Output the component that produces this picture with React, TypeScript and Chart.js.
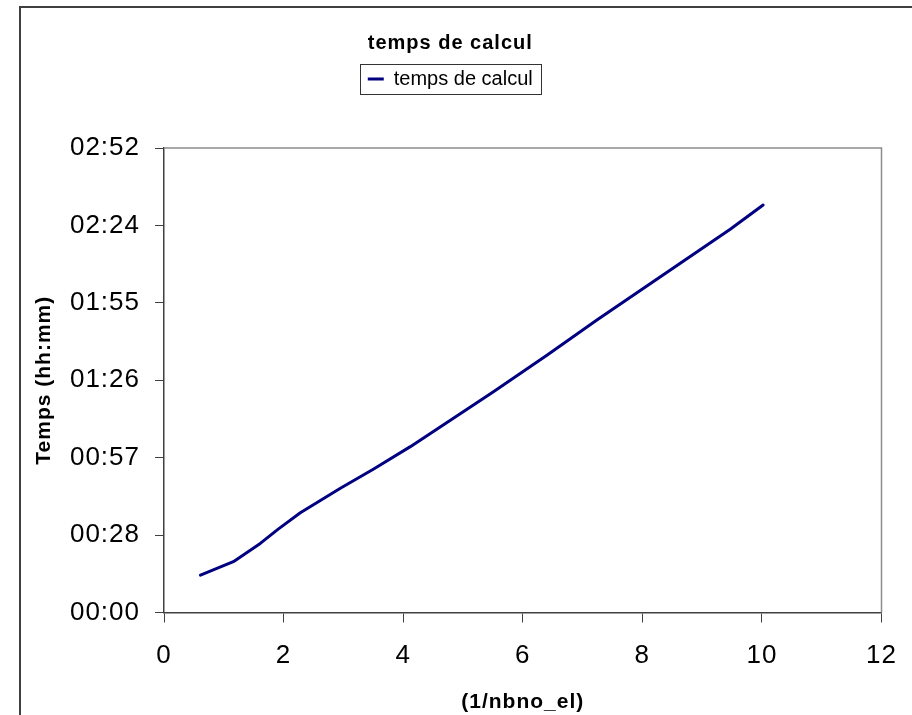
import React, { useEffect, useRef } from 'react';
import { Chart, registerables, layouts } from 'chart.js';

Chart.register(...registerables);

const chartTitle = 'temps de calcul';
const seriesLabel = 'temps de calcul';
const xAxisTitle = '(1/nbno_el)';
const yAxisTitle = 'Temps (hh:mm)';

// x values (1/nbno_el)
const xValues = [0.61, 1.16, 1.61, 1.91, 2.28, 2.95, 3.5, 4.12, 5.51, 6.41, 7.24, 9.47, 10.02];
// computation time, in minutes
const timeMinutes = [13.9, 18.9, 25.7, 31.0, 37.1, 46.2, 53.3, 61.7, 82.1, 95.8, 108.8, 142.6, 151.6];

const xMin = 0;
const xMax = 12;
const xStep = 2;
// Excel time axis: 0.02 day steps = 28.8 minutes
const yStepMinutes = 28.8;
const yMaxMinutes = 172.8;
const yTickLabels = ['00:00', '00:28', '00:57', '01:26', '01:55', '02:24', '02:52'];

const CANVAS_W = 900;
const CANVAS_H = 709;

const spacerPlugin = {
  id: 'spacer',
  beforeInit(chart: any) {
    const box: any = {
      position: 'top',
      weight: 100,
      fullSize: true,
      options: {},
      width: 0,
      height: 0,
      left: 0,
      top: 0,
      right: 0,
      bottom: 0,
      isHorizontal() {
        return true;
      },
      update(maxWidth: number) {
        this.width = maxWidth;
        this.height = 49;
      },
      draw() {},
    };
    layouts.addBox(chart, box);
  },
};

const spacingPlugin = {
  id: 'spacing',
  beforeDraw(chart: any) {
    chart.ctx.letterSpacing = '1px';
  },
  afterDraw(chart: any) {
    chart.ctx.letterSpacing = '0px';
  },
};

const framePlugin = {
  id: 'frame',
  afterDraw(chart: any) {
    const { ctx, chartArea } = chart;
    ctx.save();
    ctx.strokeStyle = '#8c8c8c';
    ctx.lineWidth = 1.5;
    ctx.beginPath();
    ctx.moveTo(chartArea.left, chartArea.top);
    ctx.lineTo(chartArea.right, chartArea.top);
    ctx.lineTo(chartArea.right, chartArea.bottom);
    ctx.stroke();

    const lg = chart.legend;
    if (lg && lg.legendHitBoxes && lg.legendHitBoxes.length) {
      const hb = lg.legendHitBoxes[0];
      const cy = hb.top + hb.height / 2;
      const left = Math.round(hb.left - 8) + 0.5;
      const right = Math.round(hb.left + hb.width + 8) + 0.5;
      const top = Math.round(cy - 15) + 0.5;
      const bottom = Math.round(cy + 15) + 0.5;
      ctx.strokeStyle = '#333';
      ctx.lineWidth = 1;
      ctx.strokeRect(left, top, right - left, bottom - top);
    }
    ctx.restore();
  },
};

export default function App() {
  const ref = useRef<HTMLCanvasElement>(null);

  useEffect(() => {
    const canvas = ref.current;
    if (!canvas) return;
    Chart.defaults.font.family = "'Liberation Sans', Arial, sans-serif";
    const chart = new Chart(canvas, {
      type: 'line',
      data: {
        datasets: [
          {
            label: seriesLabel,
            data: xValues.map((x, i) => ({ x, y: timeMinutes[i] })),
            borderColor: '#000080',
            backgroundColor: '#000080',
            borderWidth: 3,
            pointRadius: 0,
            tension: 0,
            fill: false,
            borderCapStyle: 'round',
            borderJoinStyle: 'round',
          } as any,
        ],
      },
      options: {
        responsive: false,
        animation: false,
        devicePixelRatio: 1,
        layout: { padding: { top: 0, left: 0, right: 37.5, bottom: 0 } },
        plugins: {
          title: {
            display: true,
            text: chartTitle,
            color: '#000',
            font: { size: 20, weight: 'bold' },
            padding: { top: 25, bottom: 0 },
          },
          legend: {
            display: true,
            position: 'top',
            labels: {
              color: '#000',
              font: { size: 20 },
              boxWidth: 16,
              boxHeight: 3,
              padding: 14,
              generateLabels(chart: any) {
                const items = (Chart.defaults.plugins.legend.labels as any).generateLabels(chart);
                items.forEach((it: any) => {
                  it.lineWidth = 0;
                  it.fillStyle = '#000080';
                });
                return items;
              },
            },
          },
          tooltip: { enabled: false },
        },
        scales: {
          x: {
            type: 'linear',
            min: xMin,
            max: xMax,
            ticks: { stepSize: xStep, color: '#000', font: { size: 26 }, padding: 18, maxRotation: 0 },
            grid: { drawOnChartArea: false, drawTicks: true, tickLength: 10, color: '#404040', lineWidth: 1 },
            border: { color: '#404040', width: 1.5 },
            title: {
              display: true,
              text: xAxisTitle,
              color: '#000',
              font: { size: 21, weight: 'bold' },
              padding: { top: 0, bottom: 0 },
            },
            afterFit: (s: any) => {
              s.height = 102.5;
            },
          },
          y: {
            type: 'linear',
            min: 0,
            max: yMaxMinutes,
            ticks: {
              stepSize: yStepMinutes,
              color: '#000',
              font: { size: 26 },
              padding: 15,
              callback: (_v: any, i: number) => yTickLabels[i],
            },
            grid: { drawOnChartArea: false, drawTicks: true, tickLength: 9, color: '#404040', lineWidth: 1 },
            border: { color: '#404040', width: 1.5 },
            title: {
              display: true,
              text: yAxisTitle,
              color: '#000',
              font: { size: 21, weight: 'bold' },
              padding: { top: 13, bottom: 0 },
            },
            afterFit: (s: any) => {
              s.width = 145;
            },
          },
        },
      } as any,
      plugins: [spacerPlugin, spacingPlugin, framePlugin],
    });

    // keep the legend text without extra letter spacing
    const lg: any = (chart as any).legend;
    if (lg) {
      const origDraw = lg.draw.bind(lg);
      lg.draw = (...args: any[]) => {
        const c: any = chart.ctx;
        const prev = c.letterSpacing;
        c.letterSpacing = '0px';
        origDraw(...args);
        c.letterSpacing = prev;
      };
      chart.draw();
    }
    return () => chart.destroy();
  }, []);

  return (
    <div style={{ position: 'fixed', left: 0, top: 0, width: 912, height: 715, overflow: 'hidden', background: '#fff' }}>
      <canvas
        ref={ref}
        width={CANVAS_W}
        height={CANVAS_H}
        style={{ position: 'absolute', left: 19, top: 6, width: CANVAS_W, height: CANVAS_H }}
      />
      <div
        style={{
          position: 'absolute',
          left: 19,
          top: 6,
          width: 900,
          height: 720,
          border: '2px solid #404040',
          boxSizing: 'border-box',
          pointerEvents: 'none',
        }}
      />
    </div>
  );
}
